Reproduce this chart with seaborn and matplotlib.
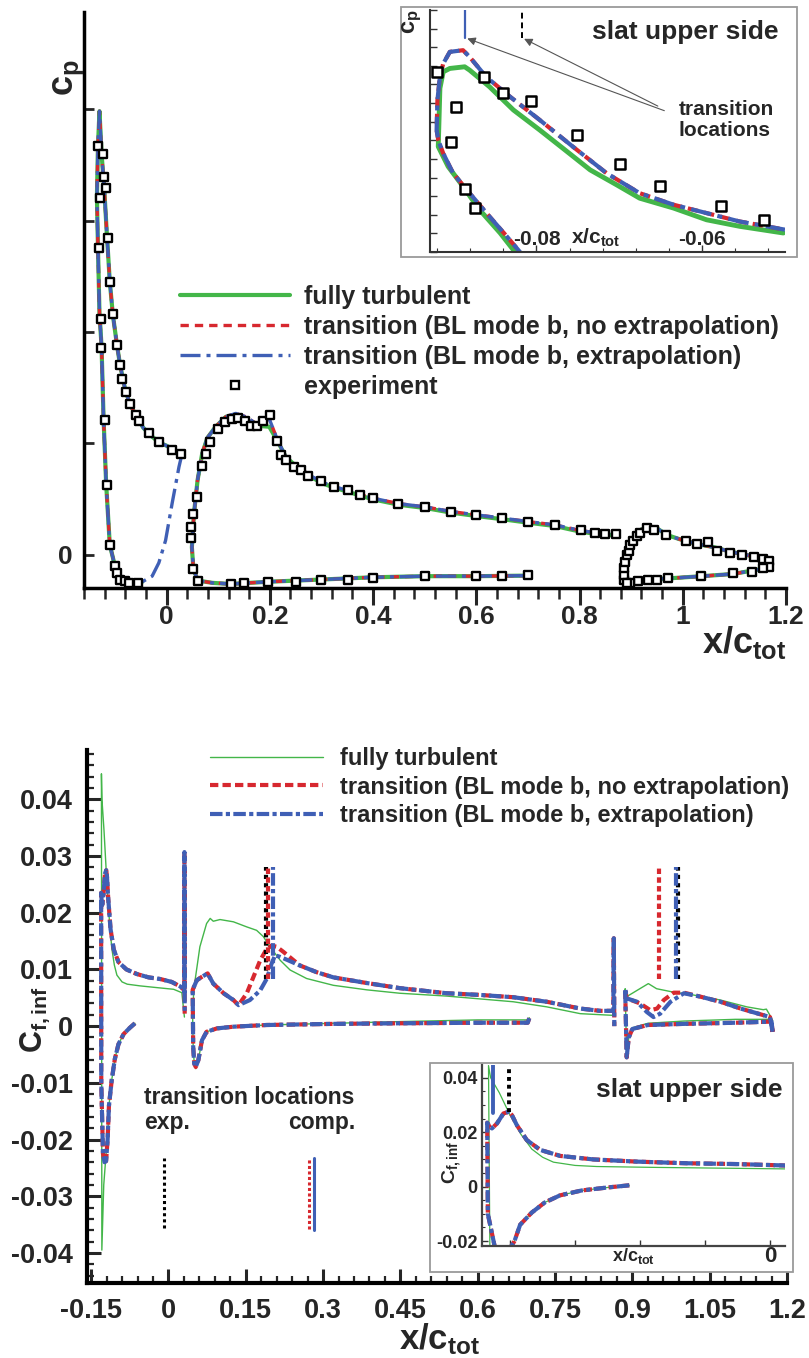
import numpy as np
import pandas as pd
import matplotlib
matplotlib.use('Agg')
import matplotlib.pyplot as plt
import seaborn as sns
from matplotlib.lines import Line2D
from matplotlib.patches import Rectangle
from matplotlib.ticker import MultipleLocator, FixedLocator, FuncFormatter

sns.set_style('ticks')
plt.rcParams['font.family'] = ['Liberation Sans', 'DejaVu Sans']
plt.rcParams['font.weight'] = 'bold'
plt.rcParams['mathtext.fontset'] = 'custom'
plt.rcParams['mathtext.rm'] = 'Liberation Sans:bold'
plt.rcParams['mathtext.it'] = 'Liberation Sans:bold'
plt.rcParams['mathtext.bf'] = 'Liberation Sans:bold'

GREEN = '#43b649'
RED = '#d7282f'
BLUE = '#3f5fb5'

# ---------------- top: pressure distribution (-cp) ----------------
slat_x_lo = [-0.047, -0.067, -0.086, -0.100, -0.110, -0.117, -0.122, -0.126, -0.130, -0.133, -0.135, -0.133, -0.130]
slat_cp_lo = [-0.24, -0.25, -0.22, -0.10, 0.09, 0.63, 1.21, 1.87, 2.17, 2.77, 3.21, 3.66, 3.98]
slat_x_up = [-0.126, -0.121, -0.116, -0.110, -0.104, -0.096, -0.090, -0.080, -0.070, -0.060, -0.045, -0.030, -0.015, 0.000, 0.015, 0.029]
slat_cp_up = [3.60, 3.30, 2.90, 2.45, 2.15, 1.88, 1.70, 1.48, 1.34, 1.26, 1.14, 1.07, 1.01, 0.98, 0.94, 0.91]
slat_x_ext = [0.030, 0.024, 0.011, -0.002, -0.015, -0.028]
slat_cp_ext = [0.91, 0.79, 0.47, 0.13, -0.07, -0.19]

main_x_lo = [0.700, 0.600, 0.501, 0.399, 0.300, 0.197, 0.124, 0.089, 0.061, 0.052, 0.049]
main_cp_lo = [-0.185, -0.19, -0.19, -0.20, -0.22, -0.24, -0.26, -0.25, -0.23, -0.13, 0.07]
main_x_up = [0.053, 0.060, 0.069, 0.079, 0.095, 0.115, 0.134, 0.153, 0.173, 0.199, 0.215, 0.231, 0.257, 0.283,
             0.309, 0.335, 0.377, 0.399, 0.451, 0.503, 0.551, 0.600, 0.652, 0.700, 0.752, 0.801, 0.830, 0.849, 0.871]
main_cp_up = [0.37, 0.67, 0.91, 1.05, 1.15, 1.24, 1.27, 1.24, 1.18, 1.22, 1.03, 0.88, 0.78, 0.70,
              0.64, 0.60, 0.54, 0.51, 0.46, 0.43, 0.39, 0.36, 0.33, 0.30, 0.27, 0.22, 0.20, 0.19, 0.185]
main_cp_up_turb = [0.37, 0.67, 0.91, 1.05, 1.15, 1.24, 1.26, 1.22, 1.16, 1.15, 1.02, 0.88, 0.77, 0.69,
                   0.63, 0.59, 0.53, 0.50, 0.45, 0.42, 0.38, 0.35, 0.32, 0.29, 0.26, 0.21, 0.19, 0.18, 0.18]

flap_x_lo = [1.170, 1.160, 1.134, 1.098, 1.037, 0.972, 0.930, 0.898, 0.885]
flap_cp_lo = [-0.10, -0.12, -0.14, -0.17, -0.19, -0.21, -0.22, -0.23, -0.24]
flap_x_up = [0.885, 0.887, 0.891, 0.898, 0.907, 0.920, 0.933, 0.950, 0.969, 0.995, 1.027, 1.060, 1.092, 1.124, 1.150, 1.170]
flap_cp_up = [-0.22, -0.10, 0.01, 0.10, 0.18, 0.23, 0.25, 0.24, 0.18, 0.14, 0.10, 0.07, 0.03, 0.00, -0.03, -0.06]

exp_slat_x = [-0.133, -0.124, -0.122, -0.118, -0.129, -0.114, -0.131, -0.109, -0.104, -0.128, -0.127, -0.096, -0.091,
              -0.086, -0.078, -0.071, -0.060, -0.054, -0.034, -0.015, 0.010, 0.028, -0.120, -0.116, -0.109, -0.100,
              -0.096, -0.091, -0.081, -0.072, -0.056]
exp_slat_cp = [3.67, 3.60, 3.39, 3.29, 3.20, 2.84, 2.75, 2.45, 2.16, 2.12, 1.86, 1.88, 1.70,
               1.58, 1.46, 1.35, 1.26, 1.20, 1.09, 1.01, 0.94, 0.91, 1.21, 0.63, 0.09, -0.10,
               -0.16, -0.22, -0.23, -0.25, -0.25]
exp_main_x = [0.047, 0.048, 0.051, 0.059, 0.068, 0.076, 0.084, 0.100, 0.113, 0.126, 0.138, 0.151, 0.163, 0.176,
              0.187, 0.200, 0.213, 0.222, 0.232, 0.247, 0.261, 0.274, 0.299, 0.325, 0.351, 0.375, 0.399, 0.449,
              0.501, 0.551, 0.600, 0.650, 0.700, 0.752, 0.802, 0.830, 0.849, 0.871,
              0.052, 0.061, 0.124, 0.150, 0.197, 0.250, 0.300, 0.351, 0.399, 0.501, 0.600, 0.649, 0.700]
exp_main_cp = [0.15, 0.25, 0.37, 0.52, 0.80, 0.91, 1.01, 1.13, 1.19, 1.22, 1.23, 1.20, 1.16, 1.16,
               1.20, 1.26, 1.02, 0.90, 0.85, 0.79, 0.76, 0.71, 0.66, 0.61, 0.58, 0.54, 0.51, 0.46,
               0.43, 0.39, 0.36, 0.33, 0.30, 0.27, 0.22, 0.20, 0.19, 0.185,
               -0.13, -0.23, -0.26, -0.25, -0.24, -0.24, -0.22, -0.22, -0.21, -0.19, -0.19, -0.19, -0.18]
exp_flap_x = [0.887, 0.887, 0.886, 0.888, 0.891, 0.895, 0.898, 0.904, 0.912, 0.917, 0.930, 0.944, 0.968, 1.007,
              1.027, 1.048, 1.067, 1.092, 1.114, 1.138, 1.156, 1.167, 1.168, 1.156, 1.134, 1.098, 1.036, 0.972,
              0.951, 0.932, 0.914, 0.898, 0.891]
exp_flap_cp = [-0.22, -0.18, -0.12, -0.06, 0.00, 0.04, 0.09, 0.13, 0.17, 0.20, 0.24, 0.22, 0.18, 0.13,
               0.10, 0.12, 0.04, 0.02, 0.00, -0.02, -0.04, -0.05, -0.11, -0.12, -0.15, -0.16, -0.19, -0.21,
               -0.22, -0.22, -0.23, -0.25, -0.25]

# top inset (slat upper side, leading edge)
ins_turb_x = [-0.0817, -0.0826, -0.0844, -0.0869, -0.0889, -0.0907, -0.0919, -0.0917, -0.0913, -0.0905, -0.0887,
              -0.0881, -0.0857, -0.0828, -0.0796, -0.0768, -0.0735, -0.0703, -0.0675, -0.0634, -0.0594, -0.0554, -0.0501]
ins_turb_cp = [-0.05, 0.0, 0.102, 0.227, 0.352, 0.459, 0.566, 0.879, 0.968, 0.986, 0.995,
               0.977, 0.888, 0.763, 0.655, 0.557, 0.441, 0.361, 0.289, 0.236, 0.173, 0.138, 0.102]
ins_tran_x = [-0.0813, -0.0820, -0.0836, -0.0857, -0.0881, -0.0901, -0.0913, -0.0919, -0.0921, -0.0920, -0.0917,
              -0.0913, -0.0905, -0.0889, -0.0881, -0.0861, -0.0832, -0.0796, -0.0756, -0.0715, -0.0675, -0.0634,
              -0.0594, -0.0554, -0.0499]
ins_tran_cp = [-0.05, 0.0, 0.084, 0.191, 0.316, 0.423, 0.530, 0.602, 0.655, 0.816, 0.941,
               1.012, 1.075, 1.084, 1.048, 0.941, 0.834, 0.709, 0.566, 0.423, 0.316, 0.254,
               0.209, 0.164, 0.120]
ins_exp_x = [-0.0921, -0.0898, -0.0904, -0.0887, -0.0874, -0.0863, -0.0840, -0.0807, -0.0751, -0.0699, -0.0650, -0.0577, -0.0525]
ins_exp_cp = [0.968, 0.777, 0.589, 0.336, 0.238, 0.938, 0.852, 0.813, 0.627, 0.473, 0.352, 0.245, 0.173]
ins_tr_ext_x = -0.0887
ins_tr_exp_x = -0.0818

# ---------------- bottom: skin friction ----------------
slat_cf_x = [-0.065, -0.075, -0.087, -0.097, -0.104, -0.110, -0.1154, -0.118, -0.121, -0.124, -0.127, -0.1303, -0.1306,
             -0.1295, -0.1284, -0.1261, -0.1231, -0.1207, -0.1192, -0.1169, -0.1123, -0.1061, -0.0969, -0.0815, -0.0615,
             -0.0385, -0.0154, 0.0062, 0.0230, 0.0290, 0.0310, 0.0310, 0.0315]
slat_cf = [0.0005, -0.0003, -0.0014, -0.0032, -0.0058, -0.0095, -0.0140, -0.0200, -0.0238, -0.0240, -0.0225, -0.0100, 0.0235,
           0.0220, 0.0214, 0.0232, 0.0269, 0.0275, 0.0263, 0.0226, 0.0171, 0.0135, 0.0113, 0.0100, 0.0092,
           0.0086, 0.0083, 0.0078, 0.0070, 0.0065, 0.0060, 0.0307, 0.0022]
slat_cf_turb_x = [-0.065, -0.075, -0.087, -0.097, -0.104, -0.110, -0.1154, -0.118, -0.121, -0.1255, -0.1292, -0.1300,
                  -0.1290, -0.1250, -0.1200, -0.1150, -0.1100, -0.1050, -0.1000, -0.0900, -0.0800, -0.0550, -0.0230,
                  0.0100, 0.0260, 0.0310]
slat_cf_turb = [0.0005, -0.0003, -0.0014, -0.0032, -0.0058, -0.0095, -0.0140, -0.0200, -0.0225, -0.0280, -0.0395, 0.0445,
                0.0400, 0.0345, 0.0262, 0.0192, 0.0138, 0.0108, 0.0090, 0.0078, 0.0074, 0.0071, 0.0068,
                0.0065, 0.0059, 0.0016]

main_cf_lo_x = [0.700, 0.697, 0.600, 0.450, 0.320, 0.190, 0.126, 0.094, 0.074, 0.065, 0.058, 0.053, 0.050, 0.048]
main_cf_lo = [0.0014, 0.0006, 0.0006, 0.0005, 0.0004, 0.0002, -0.0001, -0.0004, -0.0010, -0.0025, -0.0060, -0.0072, -0.0066, -0.0036]
main_cf_lo_turb = [0.0015, 0.0011, 0.0011, 0.0008, 0.0005, 0.0002, -0.0001, -0.0004, -0.0010, -0.0025, -0.0060, -0.0075, -0.0066, -0.0036]
main_cf_up_x_nox = [0.047, 0.055, 0.065, 0.076, 0.087, 0.107, 0.126, 0.136, 0.152, 0.165, 0.178, 0.191, 0.200, 0.210,
                    0.223, 0.255, 0.288, 0.320, 0.385, 0.449, 0.540, 0.605, 0.669, 0.734, 0.799, 0.837, 0.863, 0.864, 0.865]
main_cf_up_nox = [0.0064, 0.0081, 0.0087, 0.0093, 0.0075, 0.0058, 0.0046, 0.0037, 0.0058, 0.0087, 0.0116, 0.0137, 0.0142, 0.0140,
                  0.0131, 0.0107, 0.0095, 0.0086, 0.0076, 0.0067, 0.0058, 0.0055, 0.0051, 0.0043, 0.0031, 0.0027, 0.0027, 0.0155, 0.0000]
main_cf_up_x_ext = [0.047, 0.055, 0.065, 0.076, 0.087, 0.107, 0.126, 0.136, 0.158, 0.178, 0.191, 0.200, 0.207, 0.217,
                    0.230, 0.255, 0.288, 0.320, 0.385, 0.449, 0.540, 0.605, 0.669, 0.734, 0.799, 0.837, 0.863, 0.864, 0.865]
main_cf_up_ext = [0.0064, 0.0081, 0.0087, 0.0093, 0.0075, 0.0058, 0.0046, 0.0037, 0.0046, 0.0063, 0.0084, 0.0110, 0.0125, 0.0122,
                  0.0117, 0.0107, 0.0095, 0.0086, 0.0076, 0.0067, 0.0058, 0.0055, 0.0051, 0.0043, 0.0031, 0.0027, 0.0027, 0.0155, 0.0000]
main_cf_up_x_turb = [0.047, 0.049, 0.061, 0.074, 0.081, 0.087, 0.100, 0.126, 0.152, 0.171, 0.184, 0.197, 0.217, 0.236,
                     0.268, 0.320, 0.385, 0.449, 0.540, 0.669, 0.734, 0.799, 0.863]
main_cf_up_turb = [0.0015, 0.0064, 0.0140, 0.0181, 0.0190, 0.0185, 0.0188, 0.0184, 0.0175, 0.0169, 0.0158, 0.0140, 0.0116, 0.0099,
                   0.0084, 0.0072, 0.0064, 0.0058, 0.0053, 0.0043, 0.0034, 0.0022, 0.0019]

flap_cf_lo_x = [1.172, 1.170, 1.100, 1.000, 0.930, 0.900, 0.893, 0.889, 0.886]
flap_cf_lo = [-0.0010, 0.0008, 0.0006, 0.0004, 0.0002, -0.0005, -0.0020, -0.0055, 0.0066]
flap_cf_lo_turb = [0.0010, 0.0012, 0.0012, 0.0009, 0.0005, -0.0003, -0.0020, -0.0055, 0.0066]
flap_cf_up_x_ext = [0.889, 0.909, 0.928, 0.941, 0.954, 0.974, 1.000, 1.032, 1.071, 1.110, 1.148, 1.167, 1.172]
flap_cf_up_ext = [0.0049, 0.0043, 0.0025, 0.0016, 0.0022, 0.0043, 0.0058, 0.0052, 0.0043, 0.0031, 0.0021, 0.0016, -0.0010]
flap_cf_up_x_nox = [0.889, 0.915, 0.935, 0.948, 0.961, 0.980, 1.000, 1.032, 1.071, 1.110, 1.148, 1.167, 1.172]
flap_cf_up_nox = [0.0049, 0.0040, 0.0028, 0.0031, 0.0046, 0.0059, 0.0059, 0.0052, 0.0043, 0.0031, 0.0021, 0.0016, -0.0010]
flap_cf_up_x_turb = [0.889, 0.909, 0.931, 0.947, 0.974, 1.018, 1.071, 1.122, 1.154, 1.160, 1.167, 1.172]
flap_cf_up_turb = [0.0052, 0.0063, 0.0075, 0.0066, 0.0061, 0.0055, 0.0046, 0.0034, 0.0029, 0.0030, 0.0019, 0.0010]

# transition locations (x/c_tot)
tr_main = {'exp': 0.190, 'nox': 0.194, 'ext': 0.203}
tr_flap = {'exp': 0.989, 'nox': 0.952, 'ext': 0.984}
tr_cf_range = (0.0084, 0.0281)
tr_key = {'exp': -0.0077, 'nox': 0.2735, 'ext': 0.2833}
tr_key_top = -0.0233
ins_cf_tr = {'ext': -0.1277, 'exp': -0.1207}

labels = ['fully turbulent', 'transition (BL mode b, no extrapolation)',
          'transition (BL mode b, extrapolation)', 'experiment']

W, H = 809, 1358


def fx(px):
    return px / W


def fy(py):
    return 1 - py / H


def line(ax, x, y, **kw):
    sns.lineplot(x=x, y=y, ax=ax, sort=False, estimator=None, legend=False, **kw)


def squares(ax, x, y, s=38, lw=1.7):
    sns.scatterplot(x=x, y=y, ax=ax, marker='s', s=s, color='white', edgecolor='black',
                    linewidth=lw, legend=False, zorder=5)


def fmt(v, p):
    return f'{round(v, 3) + 0:g}'


top_styles = [dict(color=GREEN, lw=3.0, linestyle='-'),
              dict(color=RED, lw=2.4, linestyle=(0, (2.5, 1.8))),
              dict(color=BLUE, lw=2.4, linestyle=(0, (6, 1.8, 1.2, 1.8)))]
bot_styles = [dict(color=GREEN, lw=1.0, linestyle='-'),
              dict(color=RED, lw=3.0, linestyle=(0, (2, 1))),
              dict(color=BLUE, lw=3.0, linestyle=(0, (3, 0.8, 1, 0.8)))]

fig = plt.figure(figsize=(W / 100, H / 100), dpi=100)

# ================= top main axes =================
ax1 = fig.add_axes([fx(84), fy(588), fx(786) - fx(84), fy(12) - fy(588)])
turb_curves = [(slat_x_lo + slat_x_up, slat_cp_lo + slat_cp_up),
               (main_x_lo + main_x_up, main_cp_lo + main_cp_up_turb),
               (flap_x_lo + flap_x_up, flap_cp_lo + flap_cp_up)]
nox_curves = [(slat_x_lo + slat_x_up, slat_cp_lo + slat_cp_up),
              (main_x_lo + main_x_up, main_cp_lo + main_cp_up),
              (flap_x_lo + flap_x_up, flap_cp_lo + flap_cp_up)]
ext_curves = [(slat_x_ext + slat_x_lo + slat_x_up, slat_cp_ext + slat_cp_lo + slat_cp_up),
              (main_x_lo + main_x_up, main_cp_lo + main_cp_up),
              (flap_x_lo + flap_x_up, flap_cp_lo + flap_cp_up)]
for curves, st in zip([turb_curves, nox_curves, ext_curves], top_styles):
    for x, y in curves:
        line(ax1, x, y, **st)
squares(ax1, exp_slat_x + exp_main_x + exp_flap_x, exp_slat_cp + exp_main_cp + exp_flap_cp)

ax1.set_xlim(-0.16, 1.2)
ax1.set_ylim(-0.296, 4.87)
ax1.xaxis.set_major_locator(MultipleLocator(0.2))
ax1.xaxis.set_minor_locator(MultipleLocator(0.04))
ax1.xaxis.set_major_formatter(FuncFormatter(fmt))
ax1.yaxis.set_major_locator(FixedLocator([0, 1, 2, 3, 4]))
ax1.yaxis.set_major_formatter(FuncFormatter(lambda v, p: '0' if abs(v) < 1e-9 else ''))
ax1.tick_params(axis='x', which='major', direction='out', length=12, width=2.2, labelsize=19, pad=0)
ax1.tick_params(axis='x', which='minor', direction='out', length=8, width=1.8)
ax1.tick_params(axis='y', which='major', direction='in', length=7, width=2.0, labelsize=19, pad=8)
for s in ['top', 'right']:
    ax1.spines[s].set_visible(False)
for s in ['left', 'bottom']:
    ax1.spines[s].set_linewidth(2.5)
    ax1.spines[s].set_color('black')
ax1.set_xlabel('')
ax1.set_ylabel('')
for t in ax1.get_xticklabels() + ax1.get_yticklabels():
    t.set_fontweight('bold')

h_top = [Line2D([], [], **top_styles[0]), Line2D([], [], **top_styles[1]), Line2D([], [], **top_styles[2]),
         Line2D([], [], linestyle='none', marker='s', markersize=6.2, markerfacecolor='white',
                markeredgecolor='black', markeredgewidth=1.7)]
ax1.legend(h_top, labels, loc='upper left', bbox_to_anchor=(fx(180), fy(285)), bbox_transform=fig.transFigure,
           frameon=False, handlelength=4.4, handletextpad=0.55, labelspacing=0.24,
           borderaxespad=0, borderpad=0, prop={'weight': 'bold', 'size': 18})

fig.text(fx(786), fy(653), r'$x/c_{tot}$', ha='right', va='baseline', fontsize=26)
fig.text(fx(68), fy(78), r'$c_p$', ha='center', va='center', fontsize=26, rotation=90)

# ================= top inset =================
fig.add_artist(Rectangle((fx(401), fy(257)), fx(797) - fx(401), fy(7) - fy(257), transform=fig.transFigure,
                         facecolor='white', edgecolor='#9a9a9a', lw=1.3, zorder=2))
axi = fig.add_axes([fx(430), fy(252), fx(785) - fx(430), fy(10) - fy(252)], zorder=3)
line(axi, ins_turb_x, ins_turb_cp, color=GREEN, lw=3.5, linestyle='-')
line(axi, ins_tran_x, ins_tran_cp, color=RED, lw=3.0, linestyle=(0, (2.5, 1.5)))
line(axi, ins_tran_x, ins_tran_cp, color=BLUE, lw=3.0, linestyle=(0, (5, 1.5, 1.2, 1.5)))
squares(axi, ins_exp_x, ins_exp_cp, s=48, lw=1.8)
line(axi, [ins_tr_ext_x, ins_tr_ext_x], [1.152, 1.30], color=BLUE, lw=1.6)
line(axi, [ins_tr_exp_x, ins_tr_exp_x], [1.152, 1.30], color='black', lw=1.4, linestyle=(0, (3, 2)))
axi.annotate('', xy=(ins_tr_ext_x, 1.152), xytext=(-0.0642, 0.754),
             arrowprops=dict(arrowstyle='-|>', color='#555555', lw=0.8, mutation_scale=12))
axi.annotate('', xy=(ins_tr_exp_x, 1.152), xytext=(-0.0650, 0.777),
             arrowprops=dict(arrowstyle='-|>', color='#555555', lw=0.8, mutation_scale=12))
axi.text(-0.0628, 0.71, 'transition\nlocations', ha='left', va='center', fontsize=15, linespacing=1.1)
axi.set_xlim(-0.0929, -0.0499)
axi.set_ylim(0, 1.3)
axi.xaxis.set_major_locator(MultipleLocator(0.02))
axi.xaxis.set_minor_locator(MultipleLocator(0.004))
axi.yaxis.set_major_locator(MultipleLocator(0.1))
axi.tick_params(which='both', direction='in', labelbottom=False, labelleft=False, color='#333333')
axi.tick_params(which='major', length=5, width=1.0)
axi.tick_params(which='minor', length=3, width=0.8)
for s in ['top', 'right']:
    axi.spines[s].set_visible(False)
for s in ['left', 'bottom']:
    axi.spines[s].set_linewidth(1.5)
    axi.spines[s].set_color('#333333')
axi.set_xlabel('')
axi.set_ylabel('')
axi.text(-0.08, 0.015, '-0.08', ha='center', va='bottom', fontsize=15)
axi.text(-0.06, 0.015, '-0.06', ha='center', va='bottom', fontsize=15)
axi.text(-0.0728, 0.015, r'$x/c_{tot}$', ha='center', va='bottom', fontsize=15)
fig.text(fx(778), fy(32), 'slat upper side', ha='right', va='center', fontsize=19, zorder=6)
fig.text(fx(412), fy(22), r'$c_p$', ha='center', va='center', fontsize=17, rotation=90, zorder=6)

# ================= bottom main axes =================
ax2 = fig.add_axes([fx(87), fy(1283), fx(787) - fx(87), fy(750) - fy(1283)])
bot_sets = [
    [(slat_cf_turb_x, slat_cf_turb),
     (main_cf_lo_x + main_cf_up_x_turb, main_cf_lo_turb + main_cf_up_turb),
     (flap_cf_lo_x + flap_cf_up_x_turb, flap_cf_lo_turb + flap_cf_up_turb)],
    [(slat_cf_x, slat_cf),
     (main_cf_lo_x + main_cf_up_x_nox, main_cf_lo + main_cf_up_nox),
     (flap_cf_lo_x + flap_cf_up_x_nox, flap_cf_lo + flap_cf_up_nox)],
    [(slat_cf_x, slat_cf),
     (main_cf_lo_x + main_cf_up_x_ext, main_cf_lo + main_cf_up_ext),
     (flap_cf_lo_x + flap_cf_up_x_ext, flap_cf_lo + flap_cf_up_ext)],
]
for curves, st in zip(bot_sets, bot_styles):
    for x, y in curves:
        line(ax2, x, y, **st)

tr_styles = {'exp': dict(color='black', lw=3.0, linestyle=(0, (1, 1))),
             'nox': dict(color=RED, lw=3.0, linestyle=(0, (1.3, 0.8))),
             'ext': dict(color=BLUE, lw=3.0, linestyle=(0, (3, 0.8, 1, 0.8)))}
for k in ['exp', 'nox', 'ext']:
    line(ax2, [tr_main[k], tr_main[k]], list(tr_cf_range), **tr_styles[k])
    line(ax2, [tr_flap[k], tr_flap[k]], list(tr_cf_range), **tr_styles[k])
line(ax2, [tr_key['exp']] * 2, [-0.0356, tr_key_top], color='black', lw=2.2, linestyle=(0, (1, 1)))
line(ax2, [tr_key['nox']] * 2, [-0.0358, tr_key_top], color=RED, lw=2.2, linestyle=(0, (1, 0.8)))
line(ax2, [tr_key['ext']] * 2, [-0.0360, tr_key_top], color=BLUE, lw=2.2)

ax2.set_xlim(-0.158, 1.2)
ax2.set_ylim(-0.0453, 0.0487)
ax2.xaxis.set_major_locator(MultipleLocator(0.15))
ax2.xaxis.set_minor_locator(MultipleLocator(0.03))
ax2.yaxis.set_major_locator(MultipleLocator(0.01))
ax2.yaxis.set_minor_locator(MultipleLocator(0.002))
ax2.xaxis.set_major_formatter(FuncFormatter(fmt))
ax2.yaxis.set_major_formatter(FuncFormatter(fmt))
ax2.tick_params(which='both', direction='in')
ax2.tick_params(which='major', length=10, width=2.2, labelsize=19.5)
ax2.tick_params(axis='x', which='major', pad=11)
ax2.tick_params(axis='y', which='major', pad=10)
ax2.tick_params(which='minor', length=5, width=1.6)
for s in ['top', 'right']:
    ax2.spines[s].set_visible(False)
for s in ['left', 'bottom']:
    ax2.spines[s].set_linewidth(3.0)
    ax2.spines[s].set_color('black')
ax2.set_xlabel('')
ax2.set_ylabel('')
for t in ax2.get_xticklabels() + ax2.get_yticklabels():
    t.set_fontweight('bold')

h_bot = [Line2D([], [], **bot_styles[0]), Line2D([], [], **bot_styles[1]), Line2D([], [], **bot_styles[2])]
ax2.legend(h_bot, labels[:3], loc='upper left', bbox_to_anchor=(fx(210), fy(747)), bbox_transform=fig.transFigure,
           frameon=False, handlelength=4.8, handletextpad=0.7, labelspacing=0.24,
           borderaxespad=0, borderpad=0, prop={'weight': 'bold', 'size': 17})

fig.text(fx(144), fy(1097), 'transition locations', ha='left', va='center', fontsize=16.5)
fig.text(fx(144), fy(1122), 'exp.', ha='left', va='center', fontsize=16.5)
fig.text(fx(355), fy(1122), 'comp.', ha='right', va='center', fontsize=16.5)
fig.text(fx(440), fy(1349), r'$x/c_{tot}$', ha='center', va='baseline', fontsize=25)
fig.text(fx(35), fy(1020), r'$C_{f,inf}$', ha='center', va='center', fontsize=22, rotation=90)

# ================= bottom inset =================
fig.add_artist(Rectangle((fx(430), fy(1272)), fx(793) - fx(430), fy(1063) - fy(1272), transform=fig.transFigure,
                         facecolor='white', edgecolor='#9a9a9a', lw=1.3, zorder=2))
axj = fig.add_axes([fx(482), fy(1246), fx(785) - fx(482), fy(1065) - fy(1246)], zorder=3)
line(axj, slat_cf_turb_x, slat_cf_turb, color=GREEN, lw=0.9)
line(axj, slat_cf_x, slat_cf, color=RED, lw=3.0, linestyle=(0, (2, 1)))
line(axj, slat_cf_x, slat_cf, color=BLUE, lw=3.0, linestyle=(0, (3, 0.8, 1, 0.8)))
line(axj, [ins_cf_tr['ext']] * 2, [0.0269, 0.0446], color=BLUE, lw=2.8)
line(axj, [ins_cf_tr['exp']] * 2, [0.0275, 0.0434], color='black', lw=2.8, linestyle=(0, (1, 1)))
axj.set_xlim(-0.133, 0.0069)
axj.set_ylim(-0.0218, 0.0447)
axj.xaxis.set_major_locator(MultipleLocator(0.03))
axj.yaxis.set_major_locator(MultipleLocator(0.02))
axj.yaxis.set_minor_locator(MultipleLocator(0.005))
axj.yaxis.set_major_formatter(FuncFormatter(fmt))
axj.tick_params(which='both', direction='in', color='#333333', labelbottom=False)
axj.tick_params(which='major', length=4, width=1.0, labelsize=13, pad=3)
axj.tick_params(which='minor', length=2.5, width=0.8)
for s in ['top', 'right']:
    axj.spines[s].set_visible(False)
for s in ['left', 'bottom']:
    axj.spines[s].set_linewidth(1.6)
    axj.spines[s].set_color('#444444')
axj.set_xlabel('')
axj.set_ylabel('')
for t in axj.get_yticklabels():
    t.set_fontweight('bold')
fig.text(fx(782), fy(1090), 'slat upper side', ha='right', va='center', fontsize=19, zorder=6)
fig.text(fx(633), fy(1256), r'$x/c_{tot}$', ha='center', va='center', fontsize=13, zorder=6)
fig.text(fx(770), fy(1257), '0', ha='center', va='center', fontsize=16, zorder=6)
fig.text(fx(452), fy(1162), r'$C_{f,inf}$', ha='center', va='center', fontsize=14, rotation=90, zorder=6)

fig.savefig('out.png', dpi=100)
